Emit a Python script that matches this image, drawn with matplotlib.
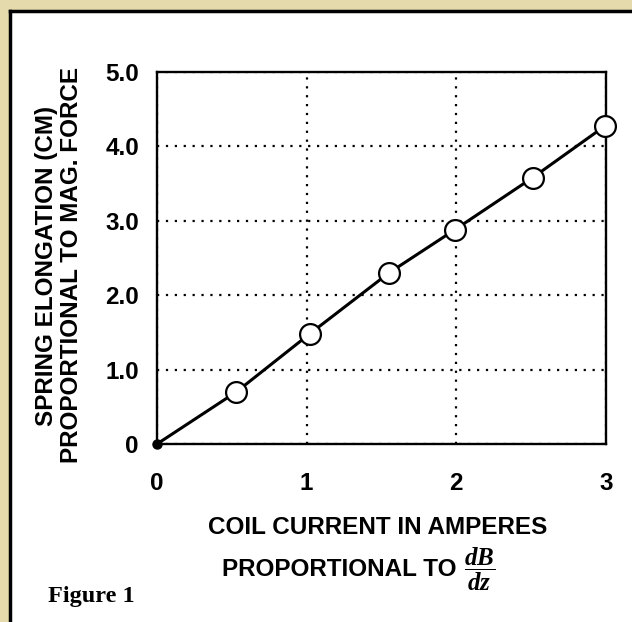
import matplotlib
matplotlib.use('Agg')
import matplotlib.pyplot as plt
from matplotlib.patches import Rectangle
from matplotlib.lines import Line2D

plt.rcParams['font.family'] = ['Liberation Sans', 'DejaVu Sans']
plt.rcParams['mathtext.fontset'] = 'custom'
plt.rcParams['mathtext.it'] = 'Liberation Serif:italic:bold'
plt.rcParams['mathtext.rm'] = 'Liberation Serif:bold'

# data
current = [0.0, 0.53, 1.02, 1.55, 1.99, 2.51, 2.99]
elongation = [0.0, 0.70, 1.48, 2.30, 2.88, 3.58, 4.27]
x_ticks = [0, 1, 2, 3]
x_tick_labels = ['0', '1', '2', '3']
y_ticks = [0, 1, 2, 3, 4, 5]
y_tick_labels = ['0', '1.0', '2.0', '3.0', '4.0', '5.0']

W, H = 632, 622
fig = plt.figure(figsize=(W / 100, H / 100), dpi=100)
fig.patch.set_facecolor('#e4daab')

# white page with black edge (top and left visible)
fig.patches.append(Rectangle((10 / W, 0), 1, 1 - 11 / H, transform=fig.transFigure,
                             facecolor='white', edgecolor='none', zorder=-5))
fig.add_artist(Line2D([9.5 / W, 1], [1 - 11 / H, 1 - 11 / H], color='black', lw=2.5))
fig.add_artist(Line2D([9.5 / W, 9.5 / W], [0, 1 - 11 / H], color='black', lw=2.5))

ax = fig.add_axes([157 / W, 1 - 444 / H, (606 - 157) / W, (444 - 72) / H])
ax.set_zorder(2)
ax.set_facecolor('white')

ax.plot(current, elongation, '-', color='black', lw=2.2, zorder=3)
ax.plot(current[1:], elongation[1:], 'o', ms=15, mfc='white', mec='black', mew=1.6,
        clip_on=False, zorder=4)
ax.plot(current[:1], elongation[:1], 'o', ms=6.5, color='black', clip_on=False, zorder=4)

ax.set_xlim(0, 3)
ax.set_ylim(0, 5)
ax.set_xticks(x_ticks)
ax.set_xticklabels(x_tick_labels)
ax.set_yticks(y_ticks)
ax.set_yticklabels(y_tick_labels)
ax.tick_params(length=0, labelsize=17.5)
ax.tick_params(axis='y', pad=13)
ax.tick_params(axis='x', pad=20)
for lab in ax.get_xticklabels() + ax.get_yticklabels():
    lab.set_fontweight('bold')
ax.grid(True, linestyle=(0, (1, 3)), color='black', lw=1.6)
for s in ax.spines.values():
    s.set_linewidth(1.7)

fig.text(47 / W, 1 - 266 / H, 'SPRING ELONGATION (CM)', rotation=90, ha='center',
         va='center', fontsize=17.5, fontweight='bold')
fig.text(72 / W, 1 - 265 / H, 'PROPORTIONAL TO MAG. FORCE', rotation=90, ha='center',
         va='center', fontsize=17.5, fontweight='bold')

fig.text(378 / W, 1 - 527 / H, 'COIL CURRENT IN AMPERES', ha='center', va='center',
         fontsize=17.5, fontweight='bold')
fig.text(457 / W, 1 - 570 / H, 'PROPORTIONAL TO', ha='right', va='center',
         fontsize=17.5, fontweight='bold')
fig.text(464 / W, 1 - 569 / H, r'$\dfrac{dB}{dz}$', ha='left', va='center', fontsize=18)

fig.text(48 / W, 1 - 602 / H, 'Figure 1', ha='left', va='baseline', fontsize=17.5,
         fontweight='bold', family='Liberation Serif')

fig.savefig('out.png', dpi=100)
